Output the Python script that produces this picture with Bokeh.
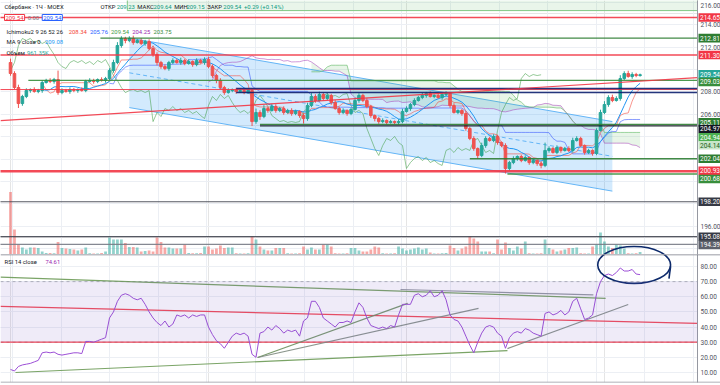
import numpy as np
import pandas as pd
from bokeh.plotting import figure
from bokeh.layouts import column
from bokeh.models import (Range1d, FixedTicker, Label, Span, BoxAnnotation,
                          ColumnDataSource, Grid)
from bokeh.embed import file_html
from bokeh.resources import INLINE
from bokeh.core.properties import value

# ---------------- data ----------------
first_open = 210.63
closes = [
    209.65, 208.40, 206.97, 207.60, 208.13, 208.22, 208.04, 208.13, 208.85, 209.03,
    208.94, 209.11, 207.95, 208.13, 208.04, 208.22, 208.13, 208.22, 208.13, 208.94,
    209.03, 208.94, 209.11, 209.03, 209.20, 209.92, 210.63, 212.15, 212.78, 212.60,
    212.78, 212.42, 212.60, 212.33, 212.51, 211.88, 211.35, 210.63, 210.27, 210.10,
    210.63, 210.81, 210.63, 210.81, 210.54, 210.72, 210.45, 210.81, 210.63, 210.90,
    210.27, 209.47, 209.03, 208.40, 207.95, 208.13, 208.22, 208.04, 208.13, 207.95,
    208.13, 205.36, 206.17, 205.81, 206.52, 206.35, 206.70, 206.35, 206.52, 206.17,
    206.35, 206.08, 206.26, 205.90, 205.63, 206.79, 207.60, 207.24, 207.78, 207.42,
    207.69, 207.06, 206.52, 206.17, 206.35, 206.08, 206.44, 207.24, 207.69, 207.24,
    206.70, 205.90, 205.63, 205.36, 205.45, 205.28, 205.36, 205.28, 205.36, 206.26,
    206.52, 206.88, 207.24, 207.51, 207.69, 207.86, 207.60, 207.69, 207.51, 207.78,
    207.86, 206.79, 206.17, 206.35, 206.08, 204.74, 203.85, 202.95, 202.33, 203.22,
    203.85, 203.67, 204.03, 203.49, 203.22, 201.17, 201.70, 202.06, 202.24, 201.88,
    202.15, 201.70, 201.88, 201.61, 201.44, 202.78, 202.95, 202.60, 203.04, 202.78,
    202.95, 202.78, 203.67, 203.85, 203.22, 202.60, 202.78, 202.51, 204.56, 206.17,
    206.88, 207.51, 207.24, 207.42, 209.20, 209.65, 209.38, 209.56, 209.47, 209.54,
]
wick_up = [
    0.35, 0.2, 0.25, 0.15, 0.2, 0.1, 0.2, 0.15, 0.2, 0.15,
    0.2, 0.15, 0.8, 0.2, 0.15, 0.2, 0.15, 0.1, 0.2, 0.15,
    0.2, 0.15, 0.1, 0.2, 0.15, 0.2, 0.25, 0.3, 0.2, 0.15,
    0.2, 0.25, 0.15, 0.2, 0.15, 0.2, 0.25, 0.2, 0.15, 0.2,
    0.15, 0.2, 0.15, 0.25, 0.15, 0.2, 0.1, 0.2, 0.15, 0.2,
    0.25, 0.2, 0.15, 0.2, 0.15, 0.2, 0.1, 0.15, 0.2, 0.15,
    0.2, 0.15, 0.35, 0.2, 0.3, 0.15, 0.25, 0.2, 0.15, 0.2,
    0.15, 0.2, 0.15, 0.1, 0.2, 0.25, 0.3, 0.2, 0.25, 0.15,
    0.2, 0.15, 0.2, 0.15, 0.2, 0.1, 0.15, 0.25, 0.2, 0.15,
    0.2, 0.15, 0.1, 0.15, 0.2, 0.1, 0.15, 0.1, 0.2, 0.25,
    0.2, 0.15, 0.2, 0.15, 0.25, 0.15, 0.2, 0.1, 0.2, 0.15,
    0.2, 0.15, 0.2, 0.1, 0.15, 0.2, 0.15, 0.2, 0.1, 0.25,
    0.2, 0.15, 0.2, 0.15, 0.1, 0.2, 0.15, 0.2, 0.1, 0.15,
    0.2, 0.1, 0.15, 0.1, 0.15, 0.7, 0.2, 0.15, 0.2, 0.1,
    0.15, 0.2, 0.25, 0.2, 0.15, 0.1, 0.15, 0.1, 0.2, 0.25,
    0.3, 0.2, 0.25, 0.2, 0.3, 0.2, 0.25, 0.2, 0.15, 0.1,
]
wick_dn = [
    0.2, 0.15, 0.4, 0.2, 0.15, 0.2, 0.1, 0.15, 0.2, 0.1,
    0.15, 0.2, 0.2, 0.15, 0.1, 0.2, 0.15, 0.2, 0.1, 0.15,
    0.1, 0.2, 0.15, 0.1, 0.2, 0.15, 0.2, 0.15, 0.2, 0.25,
    0.15, 0.2, 0.1, 0.15, 0.2, 0.15, 0.2, 0.25, 0.2, 0.15,
    0.2, 0.15, 0.1, 0.2, 0.15, 0.1, 0.2, 0.15, 0.1, 0.2,
    0.15, 0.2, 0.25, 0.15, 0.2, 0.1, 0.15, 0.2, 0.1, 0.15,
    0.1, 0.4, 0.2, 0.3, 0.15, 0.2, 0.1, 0.2, 0.15, 0.2,
    0.1, 0.2, 0.15, 0.2, 0.45, 0.2, 0.15, 0.2, 0.1, 0.15,
    0.15, 0.2, 0.1, 0.2, 0.15, 0.2, 0.15, 0.1, 0.2, 0.15,
    0.15, 0.2, 0.25, 0.2, 0.15, 0.2, 0.1, 0.15, 0.2, 0.15,
    0.1, 0.2, 0.15, 0.1, 0.15, 0.2, 0.1, 0.15, 0.1, 0.2,
    0.15, 0.2, 0.1, 0.15, 0.2, 0.2, 0.15, 0.2, 0.3, 0.15,
    0.2, 0.1, 0.15, 0.2, 0.15, 0.45, 0.2, 0.15, 0.2, 0.15,
    0.1, 0.2, 0.15, 0.2, 0.25, 0.15, 0.2, 0.1, 0.15, 0.2,
    0.1, 0.15, 0.2, 0.1, 0.15, 0.2, 0.15, 0.2, 0.15, 0.1,
    0.15, 0.2, 0.15, 0.1, 0.2, 0.15, 0.1, 0.2, 0.15, 0.1,
]
volumes = [  # millions
    25, 10, 4, 2.8, 2, 2.8, 2.8, 2.6, 1.2, 0.6,
    0.6, 0.5, 5, 2.6, 2.4, 2.2, 2, 1.6, 2, 2.8,
    0.5, 0.4, 0.4, 0.6, 1.2, 6.8, 6, 6, 6, 4.6,
    3, 3, 2.8, 1.2, 1.4, 1.6, 1.2, 6.8, 5, 2.8,
    2.8, 2.4, 2.4, 2.4, 4, 0.6, 0.5, 0.5, 0.6, 3.2,
    3.2, 2, 2.4, 3.6, 2.6, 2.8, 2.8, 0.5, 0.4, 0.4,
    0.5, 7.2, 6, 3.2, 2, 1.6, 1.6, 2.6, 2.6, 2.6,
    0.5, 0.4, 0.4, 0.5, 3.2, 2, 2.8, 2, 2, 4,
    4, 3.2, 0.5, 0.4, 0.4, 0.5, 2.6, 2.6, 1.6, 1.2,
    1.2, 2, 3.2, 2.8, 0.5, 0.4, 0.4, 0.5, 3.2, 2.4,
    1.6, 2, 2.4, 2.8, 2, 2.4, 0.8, 0.4, 0.4, 0.5,
    0.6, 3.6, 2.6, 1.6, 2.4, 3.2, 7.2, 6.4, 5.2, 1.2,
    1.2, 1.2, 0.5, 6, 2, 4.8, 2.6, 1.6, 3.2, 2.4,
    5.2, 0.5, 0.4, 0.4, 0.5, 6, 2.6, 2, 1.2, 1.6,
    2, 2.6, 2.6, 2.8, 0.5, 0.4, 0.4, 3.2, 4, 8.8,
    5.2, 3.2, 2.6, 4, 3.6, 2.4, 0.5, 0.4, 0.5, 0.96,
]
rsi = [
    12, 11, 14, 15, 15.5, 16, 17, 18, 23, 23.5,
    23, 23.5, 22, 21.5, 22, 22.5, 23, 23, 22.5, 30.5,
    30.5, 30, 31, 32, 33, 46, 50, 57, 61, 62,
    61, 59, 58, 59, 55, 50, 46, 43, 41, 44,
    40, 42, 48, 47, 48, 46, 48, 47, 48, 48,
    40, 35, 31, 29, 26, 30, 34, 36, 35, 36,
    34, 22, 20, 36, 37, 40, 38, 41, 39, 36,
    38, 37, 38, 34, 44, 46, 57, 57, 53, 46,
    44, 42, 40, 43, 43, 44, 43, 50, 56, 53,
    46, 41, 40, 39, 40, 39, 41, 40, 48, 55,
    55, 55, 61, 62, 60, 61, 64, 60, 61, 64,
    58, 48, 45, 44, 40, 34, 28, 23, 30, 36,
    40, 41, 40, 36, 34, 26, 33, 36, 37, 36,
    39, 38, 36, 35, 34, 49, 50, 48, 49, 51,
    48, 50, 57, 59, 52, 45, 46, 48, 62, 70,
    74, 75, 74, 76, 79, 77, 77, 78, 75, 74.61,
]
price_ticks = [194, 196, 198, 200, 202, 204, 206, 208, 210, 212, 214, 216]
rsi_ticks = [10, 20, 30, 40, 50, 60, 70, 80]
day_ticks = [0.5, 12.8, 25.1, 37.4, 49.6, 61.9, 74.2, 86.5, 98.8, 111.1,
             123.4, 135.7, 147.9, 160.2, 172.5]

# horizontal levels: price, start index, colour, width
levels = [214.65, 212.81, 211.30, 209.03, 208.22, 208.31, 207.95, 205.11,
          204.97, 202.04, 200.93, 200.68, 198.20, 195.08, 194.39]
level_from = [-3, 22.7, -3, 4.5, -3, 57, 57, 63, 63, 116, -3, 125.5, -3, -3, -3]
level_color = ["#f23645", "#2e7d32", "#f23645", "#388e3c", "#f23645", "#0d1f6e",
               "#0d1f6e", "#2e7d32", "#131722", "#2e7d32", "#f23645", "#388e3c",
               "#434651", "#434651", "#787b86"]
level_width = [1.6, 1.3, 1.6, 1.3, 1.0, 1.6, 1.6, 1.3, 1.2, 1.3, 2.4, 1.3, 1.2, 1.2, 1.2]

# price-axis tags: text, price, bg, text colour, offset (ref px, + = up)
tags = [
    ("214.65", 214.65, "#f23645", "white", 0),
    ("212.81", 212.81, "#2e7d32", "white", 0),
    ("211.30", 211.30, "#f23645", "white", 0),
    ("209.54", 209.54, "#26a69a", "white", 0.5),
    ("209.03", 209.03, "#388e3c", "white", -1.5),
    ("205.11", 205.11, "#2e7d32", "white", 2),
    ("204.97", 204.97, "#131722", "white", -3),
    ("204.94", 204.94, "#4caf50", "white", -11),
    ("204.14", 204.14, "#c8e6c9", "#1b5e20", -10),
    ("202.04", 202.04, "#2e7d32", "white", 0),
    ("200.93", 200.93, "#f23645", "white", 0.5),
    ("200.68", 200.68, "#388e3c", "white", -5),
    ("198.20", 198.20, "#363a45", "white", 0),
    ("195.08", 195.08, "#363a45", "white", 0),
    ("194.39", 194.39, "#5d606b", "white", -0.5),
]

# channel (parallel) drawing
chan_x = [30, 152]
chan_top = [212.82, 205.36]
chan_bot = [206.61, 199.15]
# sloped red line on price pane
trend_x = [-2.53, 173.5]
trend_y = [205.45, 209.29]
# top green box
box_left, box_bottom = 29.5, 215.27

# RSI drawings: x0, y0, x1, y1, colour
rsi_draw = [
    (-2.53, 53.6, 173.5, 42.4, "#f23645"),
    (-2.53, 30.0, 173.5, 30.0, "#f23645"),
    (-2.53, 72.9, 150.3, 59.0, "#6b9a55"),
    (98.5, 64.8, 147.2, 61.2, "#8a8f98"),
    (1.26, 10.0, 125.5, 24.5, "#6b9a55"),
    (62.4, 19.9, 100.3, 55.6, "#6b8f5e"),
    (62.4, 19.9, 118.2, 52.3, "#7d8a80"),
    (125.5, 25.8, 156.0, 54.9, "#7d8a80"),
]

# header legend lines: (ref x, ref y, [(text, colour, gap before)])
DK, GR = "#131722", "#089981"
header_lines = [
    (3, 6, [("Сбербанк · 1Ч · MOEX", DK, 0)]),
    (99, 6, [("ОТКР", DK, 0), ("209.23", GR, 0.6), ("МАКС", DK, 2.5), ("209.64", GR, 0.6),
             ("МИН", DK, 2.5), ("209.15", GR, 0.6), ("ЗАКР", DK, 2.5), ("209.54", GR, 0.6),
             ("+0.29 (+0.14%)", GR, 2.5)]),
    (5, 31, [("Ichimoku2 9 26 52 26", DK, 0), ("208.34", "#f44336", 4),
             ("205.76", "#2962ff", 3), ("209.54", "#43a047", 3),
             ("204.25", "#9c27b0", 3), ("203.75", "#388e3c", 3)]),
    (5, 41, [("MA 9 close 0", DK, 0), ("209.08", "#2196f3", 4)]),
    (5, 52, [("Объем", DK, 0), ("961.35K", "#26a69a", 4)]),
]
rsi_header = (3, 7, [("RSI 14 close", DK, 0), ("74.61", "#9c27b0", 4)])

# ---------------- geometry ----------------
W = 720
H_MAIN = 254
H_RSI = 131
X0, X1 = -2.53, 173.5            # X1 = left edge of the price scale
AXIS_PX = 697.0                  # frame pixel where the price scale starts
XE = X0 + (X1 - X0) * W / AXIS_PX
P0, P1 = 193.49, 216.17
R0, R1 = 3.4, 87.9
SX, SY = W / 720, (H_MAIN + H_RSI) / 385
FONT = "Roboto"
HFS = 5.9
UP, DN = "#26a69a", "#ef5350"
x_px = W / (XE - X0)
price_px = H_MAIN / (P1 - P0)
rsi_px = (H_RSI - 3) / (R1 - R0)

n = len(closes)
idx = np.arange(n)
opens = [first_open] + closes[:-1]
highs = [max(o, c) + w for o, c, w in zip(opens, closes, wick_up)]
lows = [min(o, c) - w for o, c, w in zip(opens, closes, wick_dn)]
cols = [UP if c >= o else DN for o, c in zip(opens, closes)]

src = ColumnDataSource(dict(x=idx, h=highs, l=lows,
                            top=np.maximum(opens, closes), bot=np.minimum(opens, closes),
                            col=cols, vol=volumes))

hs, ls, cs = pd.Series(highs), pd.Series(lows), pd.Series(closes)
tenkan = ((hs.rolling(9).max() + ls.rolling(9).min()) / 2).to_numpy()
kijun = ((hs.rolling(26).max() + ls.rolling(26).min()) / 2).to_numpy()
span_a = pd.Series((tenkan + kijun) / 2).shift(25).to_numpy()
span_b = ((hs.rolling(52).max() + ls.rolling(52).min()) / 2).shift(25).to_numpy()
ma9 = cs.rolling(9).mean().to_numpy()


def text_w(s, size):
    w = 0.0
    for ch in s:
        if ch.isdigit():
            w += 0.562
        elif ch in ".,·":
            w += 0.27
        elif ch == " ":
            w += 0.25
        elif ch in "()":
            w += 0.34
        elif ch == "%":
            w += 0.73
        elif ch == "+":
            w += 0.57
        elif ch.isupper():
            w += 0.66
        else:
            w += 0.53
    return w * size


def base_fig(height, yr, bottom=0):
    f = figure(width=W, height=height, x_range=Range1d(X0, XE), y_range=yr,
               output_backend="svg", toolbar_location=None, x_axis_location=None,
               y_axis_location=None, min_border_left=0, min_border_right=0,
               min_border_top=0, min_border_bottom=bottom)
    f.outline_line_color = None
    f.add_layout(Grid(dimension=0, ticker=FixedTicker(ticks=day_ticks),
                      grid_line_color="#eceff4"))
    return f


def price_scale(f, ticks, lo, hi, busy_px, unit_px):
    """white price-scale strip with its own tick labels (skipping covered ones)"""
    f.add_layout(Grid(dimension=1, ticker=FixedTicker(ticks=ticks),
                      grid_line_color="#eceff4"))
    f.quad(left=[X1], right=[XE + 1], bottom=[lo - 5], top=[hi + 5],
           fill_color="white", line_color=None)
    f.segment(x0=[X1], y0=[lo - 5], x1=[X1], y1=[hi + 5], line_color="#9598a1",
              line_width=1)
    shown = [t for t in ticks if all(abs(t * unit_px - b) > 6.5 for b in busy_px)]
    ys = [min(t, hi - 4.5 / unit_px) for t in shown]
    f.text(x=[X1] * len(shown), y=ys, text=[f"{t:.2f}" for t in shown],
           x_offset=3, text_font=value(FONT), text_font_size="6.5px",
           text_color="#50535e", text_baseline="middle", text_align="left")


def txt(fig, x, y, text, dx, dy, color, size=f"{HFS}px", bg=None, border=None):
    fig.add_layout(Label(x=x, y=y, x_offset=dx, y_offset=dy, text=text,
                         text_color=color, text_font_size=size, text_font=FONT,
                         text_baseline="middle", text_align="left",
                         background_fill_color=bg, border_line_color=border,
                         padding=1))


def legend_line(fig, x, y, hx, hy, parts):
    cx = hx * SX
    for t, c, gap in parts:
        cx += gap
        txt(fig, x, y, t, cx, -hy * SY, c)
        cx += text_w(t, HFS)


# ---------------- price pane ----------------
p = base_fig(H_MAIN, Range1d(P0, P1))

p.extra_y_ranges = {"vol": Range1d(0, 101.6)}
p.vbar(x="x", top="vol", width=0.7, fill_color="col", line_color=None,
       fill_alpha=0.5, y_range_name="vol", source=src)

p.quad(left=[box_left], right=[X1], bottom=[box_bottom], top=[P1 + 2],
       fill_color="#4caf50", fill_alpha=0.12, line_color="#81c784", line_width=1)

p.patch(x=chan_x + chan_x[::-1], y=chan_top + chan_bot[::-1],
        fill_color="#2196f3", fill_alpha=0.2, line_color=None)
p.line(chan_x, chan_top, line_color="#64b5f6", line_width=1)
p.line(chan_x, chan_bot, line_color="#64b5f6", line_width=1)
p.line(chan_x, [(a + b) / 2 for a, b in zip(chan_top, chan_bot)],
       line_color="#64b5f6", line_width=1, line_dash="4 3")

mask = ~np.isnan(span_a) & ~np.isnan(span_b)
p.varea(x=idx[mask], y1=span_a[mask], y2=span_b[mask], fill_color="#4caf50",
        fill_alpha=0.13)
p.line(idx, span_a, line_color="#ab47bc", line_width=0.8, line_alpha=0.7)
p.line(idx, span_b, line_color="#66bb6a", line_width=0.8, line_alpha=0.8)
p.line(idx[:-25], closes[25:], line_color="#43a047", line_width=0.8, line_alpha=0.7)
p.line(idx, kijun, line_color="#3d5afe", line_width=0.8, line_alpha=0.75)
p.line(idx, tenkan, line_color="#f44336", line_width=0.8, line_alpha=0.7)
p.line(idx, ma9, line_color="#2196f3", line_width=1)

p.segment(x0="x", y0="l", x1="x", y1="h", line_color="col", line_width=1, source=src)
p.vbar(x="x", top="top", bottom="bot", width=0.65, fill_color="col", line_color="col",
       source=src)

for lv, lf, lc, lw in zip(levels, level_from, level_color, level_width):
    p.segment(x0=[lf], y0=[lv], x1=[X1], y1=[lv], line_color=lc, line_width=lw,
              line_alpha=0.9)
p.line(trend_x, trend_y, line_color="#f23645", line_width=1.2, line_alpha=0.9)

# ellipse (hand drawing) -- defined in RSI units, its top reaches the price pane
ell_x, ell_w, ell_y, ell_h = 157.5, 18.4, 81.0, 24.4
ell_py = P0 - (R1 - ell_y) * rsi_px / price_px
ell_ph = ell_h * rsi_px / price_px
p.ellipse(x=[ell_x], y=[ell_py], width=[ell_w], height=[ell_ph], fill_color=None,
          line_color="#0d2a6b", line_width=1.6)

# price scale + tags
tag_y = [pr + off * SY / price_px for _, pr, _, _, off in tags]
price_scale(p, price_ticks, P0, P1, [y * price_px for y in tag_y], price_px)
half = 4.3 / price_px
p.quad(left=[X1 + 1 / x_px] * len(tags), right=[XE + 1] * len(tags),
       bottom=[y - half for y in tag_y], top=[y + half for y in tag_y],
       fill_color=[t[2] for t in tags], line_color=None)
p.text(x=[X1] * len(tags), y=tag_y, text=[t[0] for t in tags], x_offset=2.5,
       text_font=value(FONT), text_font_size="6.5px",
       text_color=[t[3] for t in tags], text_baseline="middle", text_align="left")

# header legend
for hx, hy, parts in header_lines:
    legend_line(p, X0, P1, hx, hy, parts)
bx = 4 * SX
txt(p, X0, P1, "209.54", bx, -17 * SY, "#f23645", bg="white", border="#f23645")
bx += text_w("209.54", HFS) + 4
txt(p, X0, P1, "0.00", bx, -17 * SY, "#787b86")
bx += text_w("0.00", HFS) + 4
txt(p, X0, P1, "209.54", bx, -17 * SY, "#2962ff", bg="white", border="#2962ff")

# ---------------- RSI pane ----------------
p2 = base_fig(H_RSI, Range1d(R0, R1), bottom=3)
p2.x_range = p.x_range
p2.add_layout(BoxAnnotation(bottom=30, top=70, right=X1, fill_color="#7e57c2",
                            fill_alpha=0.12, line_color=None))
for lvl in (70, 30):
    p2.segment(x0=[X0], y0=[lvl], x1=[X1], y1=[lvl], line_color="#9598a1",
               line_dash="3 3", line_width=1, line_alpha=0.7)
for x0, y0, x1, y1, c in rsi_draw:
    p2.segment(x0=[x0], y0=[y0], x1=[x1], y1=[y1], line_color=c, line_width=1.2,
               line_alpha=0.9)
p2.line(idx, rsi, line_color="#9c4fd6", line_width=1)
p2.ellipse(x=[ell_x], y=[ell_y], width=[ell_w], height=[ell_h], fill_color=None,
           line_color="#0d2a6b", line_width=1.6)
p2.segment(x0=[ell_x + ell_w / 2], y0=[ell_y - 1], x1=[ell_x + ell_w / 2 - 0.4],
           y1=[ell_y - 9], line_color="#0d2a6b", line_width=1.6)
price_scale(p2, rsi_ticks, R0, R1, [], rsi_px)
p2.add_layout(Span(location=R1, dimension="width", line_color="#787b86", line_width=1.5))
p2.add_layout(Span(location=R0, dimension="width", line_color="#9598a1", line_width=1.5))
legend_line(p2, X0, R1, *rsi_header)

layout = column(p, p2, spacing=0)
open("out.html", "w").write(file_html(layout, INLINE))
